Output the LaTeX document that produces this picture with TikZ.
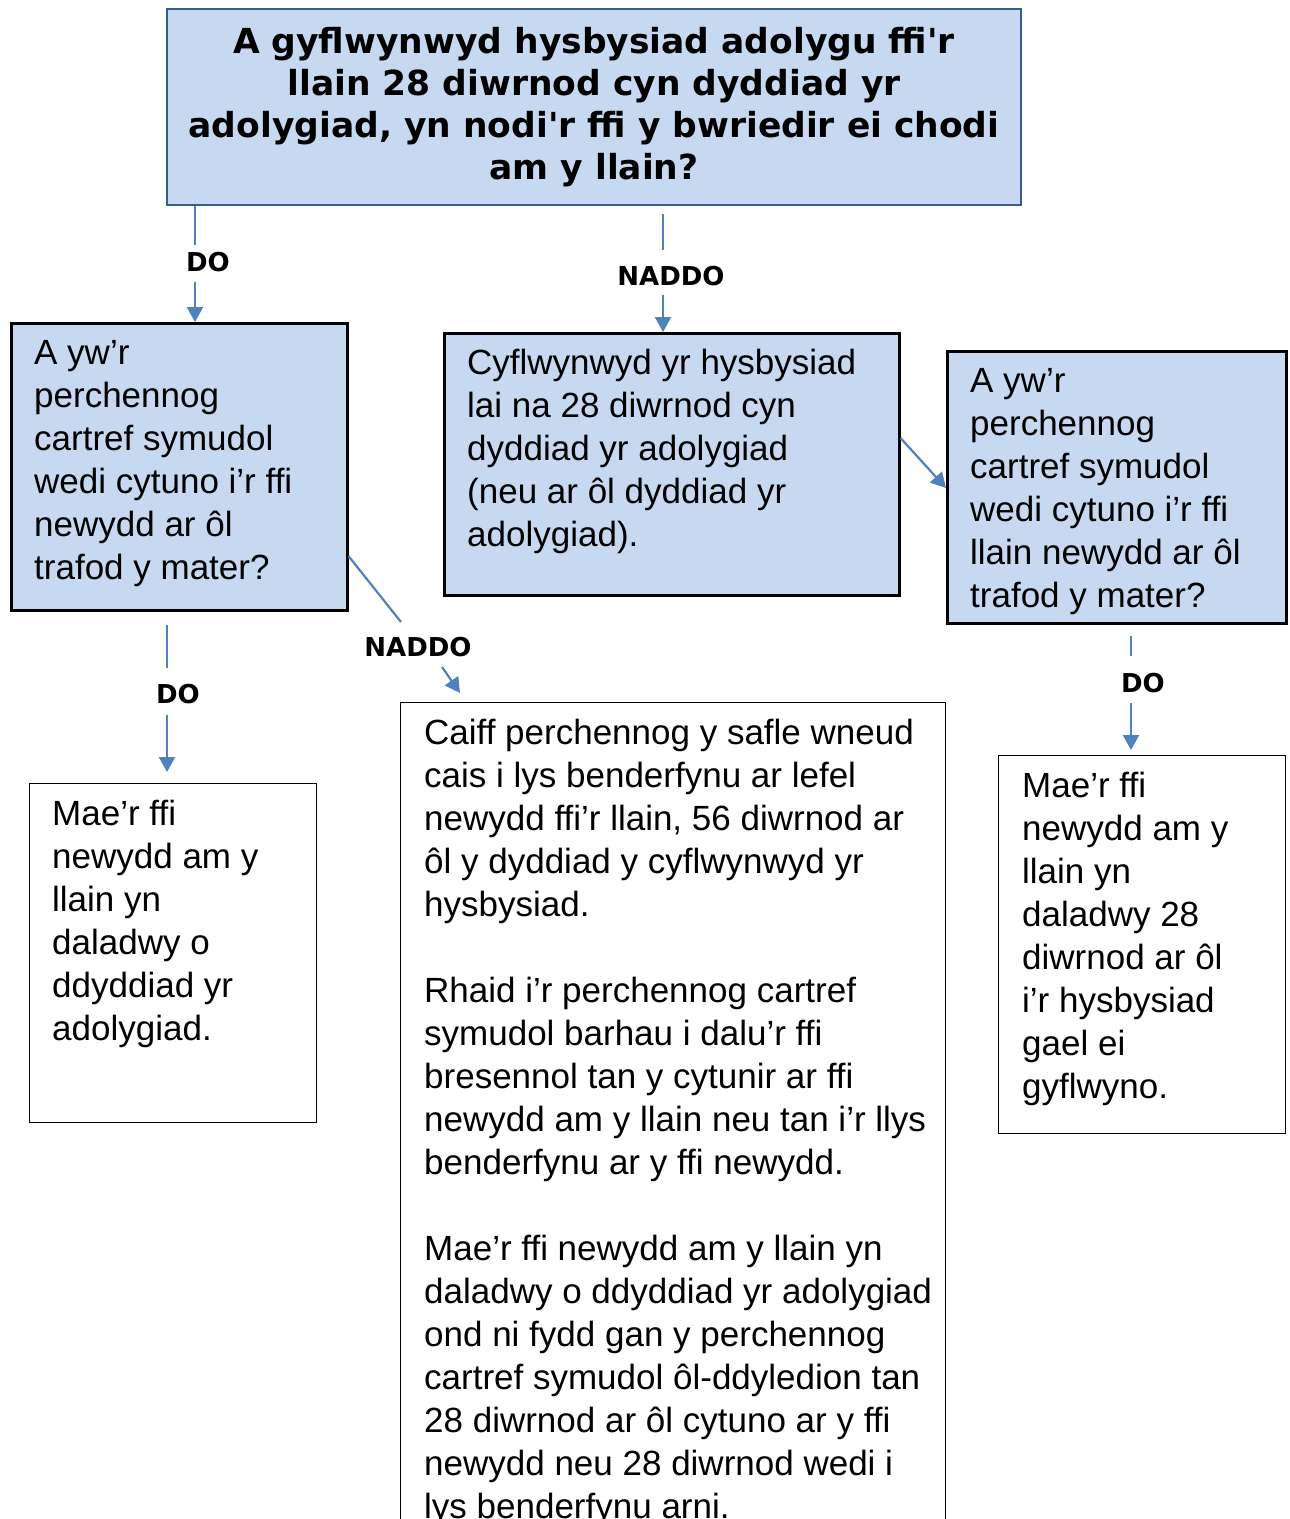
\documentclass[tikz,border=0pt]{standalone}
\usepackage{fontspec}
\setmainfont{Liberation Sans}
\newfontfamily\vfont{DejaVu Sans}
\usetikzlibrary{arrows.meta,calc}
\definecolor{boxblue}{HTML}{C6D9F1}
\definecolor{edgeblue}{HTML}{385D8A}
\definecolor{linkblue}{HTML}{4F81BD}
\begin{document}
\begin{tikzpicture}[x=1pt,y=-1pt,
 bluebox/.style={draw=black, line width=2.5pt, fill=boxblue, rectangle, anchor=north west, inner sep=0pt},
 whitebox/.style={draw=black, line width=1.2pt, fill=white, rectangle, anchor=north west, inner sep=0pt},
 body/.style={anchor=north west, inner sep=0pt, align=left, font=\fontsize{35}{43}\selectfont},
 lbl/.style={font=\vfont\bfseries\fontsize{26}{30}\selectfont, inner sep=0pt},
 link/.style={draw=linkblue, line width=2.2pt},
 arr/.style={link, -{Triangle[width=16pt,length=15pt]}}
]
\clip (0,0) rectangle (1290,1519);
\fill[white] (0,0) rectangle (1290,1519);

% top question
\node[rectangle, draw=edgeblue, line width=2.5pt, fill=boxblue, minimum width=854pt, minimum height=196pt,
      inner sep=0pt, align=center, font=\vfont\bfseries\fontsize{34.5}{42}\selectfont] (b0) at (594,107)
  {A gyflwynwyd hysbysiad adolygu ffi'r\\llain 28 diwrnod cyn dyddiad yr\\adolygiad, yn nodi'r ffi y bwriedir ei chodi\\am y llain?};

% boxes
\node[bluebox, minimum width=336pt, minimum height=287pt] (b1) at (10,322) {};
\node[bluebox, minimum width=455pt, minimum height=262pt] (b2) at (443,332) {};
\node[bluebox, minimum width=339pt, minimum height=272pt] (b3) at (946,350) {};
\node[whitebox, minimum width=287pt, minimum height=339pt] (b4) at (29,783) {};
\node[whitebox, minimum width=545pt, minimum height=900pt] (b5) at (400,702) {};
\node[whitebox, minimum width=287pt, minimum height=378pt] (b6) at (998,755) {};

% texts
\node[body] (t1) at ($(b1.north west)+(24,12)$) {\strut A yw’r\\perchennog\\cartref symudol\\wedi cytuno i’r ffi\\newydd ar ôl\\trafod y mater?};
\node[body] (t2) at ($(b2.north west)+(24,12)$) {\strut Cyflwynwyd yr hysbysiad\\lai na 28 diwrnod cyn\\dyddiad yr adolygiad\\(neu ar ôl dyddiad yr\\adolygiad).};
\node[body] (t3) at ($(b3.north west)+(24,12)$) {\strut A yw’r\\perchennog\\cartref symudol\\wedi cytuno i’r ffi\\llain newydd ar ôl\\trafod y mater?};
\node[body] (t4) at ($(b4.north west)+(23,12)$) {\strut Mae’r ffi\\newydd am y\\llain yn\\daladwy o\\ddyddiad yr\\adolygiad.};
\node[body] (t5) at ($(b5.north west)+(24,12)$) {\strut Caiff perchennog y safle wneud\\cais i lys benderfynu ar lefel\\newydd ffi’r llain, 56 diwrnod ar\\ôl y dyddiad y cyflwynwyd yr\\hysbysiad.\\[43pt]Rhaid i’r perchennog cartref\\symudol barhau i dalu’r ffi\\bresennol tan y cytunir ar ffi\\newydd am y llain neu tan i’r llys\\benderfynu ar y ffi newydd.\\[43pt]Mae’r ffi newydd am y llain yn\\daladwy o ddyddiad yr adolygiad\\ond ni fydd gan y perchennog\\cartref symudol ôl-ddyledion tan\\28 diwrnod ar ôl cytuno ar y ffi\\newydd neu 28 diwrnod wedi i\\lys benderfynu arni.};
\node[body] (t6) at ($(b6.north west)+(24,12)$) {\strut Mae’r ffi\\newydd am y\\llain yn\\daladwy 28\\diwrnod ar ôl\\i’r hysbysiad\\gael ei\\gyflwyno.};

% labels
\node[lbl] (l1) at (208,262) {DO};
\node[lbl] (l2) at (671,276) {NADDO};
\node[lbl] (l3) at (418,647) {NADDO};
\node[lbl] (l4) at (178,694) {DO};
\node[lbl] (l5) at (1143,683) {DO};

% connector points
\coordinate (p1) at (195,245);
\coordinate (p2) at (195,282);
\coordinate (p4) at (663,250);
\coordinate (p5) at (663,295);
\coordinate (p6) at (899,438);
\coordinate (p7) at (946,488);
\coordinate (p8) at (347,556);
\coordinate (p9) at (401,622);
\coordinate (p10) at (442,667);
\coordinate (p11) at (460,693);
\coordinate (p13) at (167,668);
\coordinate (p14) at (167,715);
\coordinate (p15) at (1131,656);
\coordinate (p16) at (1131,703);

% connectors
\draw[link] (b0.south -| p1) -- (p1);
\draw[arr] (p2) -- (b1.north -| p2);
\draw[link, shorten <=8pt] (b0.south -| p4) -- (p4);
\draw[arr] (p5) -- (b2.north -| p5);
\draw[arr] (b2.east |- p6) -- (b3.west |- p7);
\draw[link] (b1.east |- p8) -- (p9);
\draw[arr] (p10) -- (p11);
\draw[link, shorten <=13pt] (b1.south -| p13) -- (p13);
\draw[arr, shorten >=11pt] (p14) -- (b4.north -| p14);
\draw[link, shorten <=11pt] (b3.south -| p15) -- (p15);
\draw[arr, shorten >=5pt] (p16) -- (b6.north -| p16);
\end{tikzpicture}
\end{document}
